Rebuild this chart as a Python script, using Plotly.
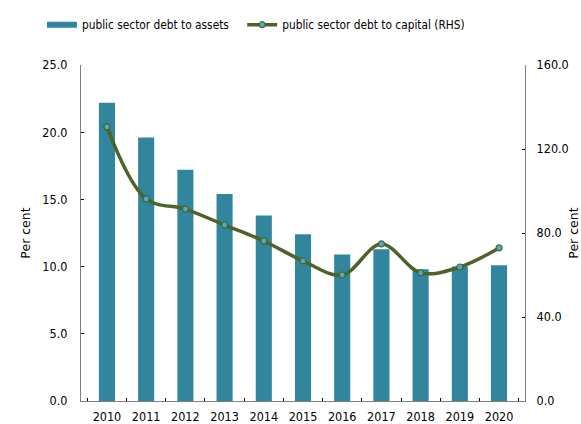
import plotly.graph_objects as go

years = ["2010", "2011", "2012", "2013", "2014", "2015", "2016", "2017", "2018", "2019", "2020"]
debt_to_assets = [22.2, 19.6, 17.2, 15.4, 13.8, 12.4, 10.9, 11.3, 9.8, 10.0, 10.1]
debt_to_capital = [130.5, 96.2, 91.4, 83.8, 76.2, 66.7, 60.0, 74.8, 61.0, 63.8, 72.9]
left_ticks = [0, 5, 10, 15, 20, 25]
right_ticks = [0, 40, 80, 120, 160]

BAR_COLOR = "#31859C"
LINE_COLOR = "#4F6228"
FONT = "DejaVu Sans Condensed"
TITLE_FONT = "DejaVu Sans"

fig = go.Figure()
fig.add_trace(go.Bar(
    x=years, y=debt_to_assets, name="public sector debt to assets",
    marker=dict(color=BAR_COLOR, line=dict(width=0)),
    showlegend=False, legendgroup="assets",
))
# legend key for the bars: a flat wide swatch
fig.add_trace(go.Scatter(
    x=[None], y=[None], mode="lines", name="public sector debt to assets",
    line=dict(color=BAR_COLOR, width=6), legendgroup="assets", legend="legend",
))
fig.add_trace(go.Scatter(
    x=years, y=debt_to_capital, name="public sector debt to capital (RHS)",
    yaxis="y2", mode="lines+markers", legend="legend2",
    line=dict(color=LINE_COLOR, width=3.5, shape="spline", smoothing=1.0),
    marker=dict(size=6, color="#4BACC6", line=dict(color=LINE_COLOR, width=1.2)),
))

axis_line = dict(showline=True, linecolor="#808080", linewidth=1.2, showgrid=False,
                 zeroline=False, ticks="inside", tickcolor="#000000", ticklen=3,
                 automargin=False)

legend_common = dict(orientation="h", xref="paper", xanchor="left",
                     yref="container", y=0.976, yanchor="top",
                     font=dict(size=11.8))

fig.update_layout(
    width=581, height=424,
    margin=dict(l=81, r=56, t=65, b=23, autoexpand=False),
    paper_bgcolor="white", plot_bgcolor="white",
    font=dict(family=FONT, size=12, color="#000000"),
    bargap=0.59,
    showlegend=True,
    legend=dict(**legend_common, x=-0.088),
    legend2=dict(**legend_common, x=0.363),
    xaxis=dict(**axis_line, tickson="boundaries", ticklabelstandoff=4,
               tickfont=dict(size=12.5)),
    yaxis=dict(**axis_line, range=[0, 25], tickvals=left_ticks,
               ticktext=[f"{v:.1f}" for v in left_ticks], ticklabelstandoff=10,
               title=dict(text="Per cent", standoff=8,
                          font=dict(family=TITLE_FONT, size=12.5)),
               tickfont=dict(size=12.5)),
    yaxis2=dict(**axis_line, overlaying="y", side="right", range=[0, 160],
                tickvals=right_ticks, ticktext=[f"{v:.1f}" for v in right_ticks],
                ticklabelstandoff=8,
                title=dict(text="Per cent", standoff=8,
                           font=dict(family=TITLE_FONT, size=12.5)),
                tickfont=dict(size=12.5)),
)

fig.write_html("out.html")
